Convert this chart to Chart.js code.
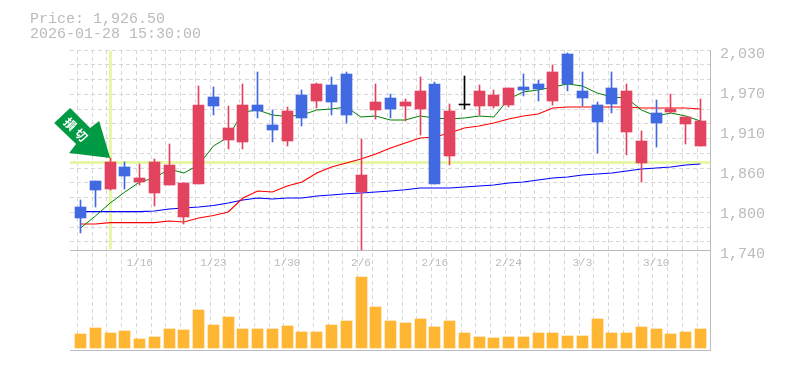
<!DOCTYPE html>
<html lang="en">
<head>
  <meta charset="UTF-8">
  <title>Price chart</title>
  <script src="https://cdn.jsdelivr.net/npm/chart.js"></script>
  <style>
    body { margin: 0; background: #fff; }
    canvas { display: block; }
  </style>
</head>
<body>
  <canvas id="priceChart" width="785" height="370"></canvas>

  <script>
    const priceText = "Price: 1,926.50";
    const timeText = "2026-01-28 15:30:00";

    const priceTicks = [1740, 1798, 1856, 1914, 1972, 2030];
    // date labels under the price panel: candle index and text
    const dateIndex = [4, 9, 14, 19, 24, 29, 34, 39];
    const dateLabels = ["1/16", "1/23", "1/30", "2/6", "2/16", "2/24", "3/3", "3/10"];

    const opens = [1802.35, 1840.05, 1828.45, 1860.35, 1838.6, 1822.65, 1834.25, 1787.85, 1835.7, 1961.85, 1899.5,
      1896.6, 1950.25, 1921.25, 1898.05, 1964.75, 1956.05, 1979.25, 1995.2, 1824.1, 1943, 1960.4, 1948.8, 1944.45,
      1980.7, 1876.3, 1950.25, 1948.8, 1948.8, 1950.25, 1976.35, 1980.7, 1956.05, 2024.2, 1970.55, 1950.25, 1974.9,
      1911.1, 1866.15, 1938.65, 1940.1, 1922.7, 1891.2];
    const highs = [1812.5, 1840.05, 1873.4, 1867.6, 1864.7, 1871.95, 1893.7, 1837.15, 1977.8, 1976.35, 1948.8,
      1980.7, 1998.1, 1943, 1947.35, 1972, 1982.15, 1990.85, 1998.1, 1900.95, 1980.7, 1966.2, 1959, 1990.85,
      1983.6, 1951.7, 1992.3, 1979.25, 1972, 1974.9, 1995.2, 1986.5, 2008.25, 2025.65, 1998.1, 1954.6, 1998.1,
      1980.7, 1912.55, 1957.5, 1966.2, 1932.85, 1959];
    const lows = [1765.1, 1802.8, 1827, 1828.45, 1834.25, 1803.8, 1834.25, 1777.7, 1835.7, 1935.75, 1886.45,
      1886.45, 1931.4, 1896.6, 1890.8, 1919.8, 1945.9, 1935.75, 1924.15, 1740, 1930.05, 1931.4, 1927.05, 1906.75,
      1835.7, 1863.25, 1944.45, 1935.75, 1945.9, 1947.35, 1963.3, 1956.05, 1950.25, 1970.55, 1948.8, 1880.65, 1938.65,
      1877.75, 1838.6, 1889.35, 1938.65, 1893.7, 1891.2];
    const closes = [1786.4, 1827, 1867.6, 1847.3, 1844.4, 1867.6, 1863.25, 1837.15, 1950.25, 1948.8, 1916.9,
      1950.25, 1941.55, 1914, 1941.55, 1931.4, 1980.7, 1954.6, 1935.75, 1848.75, 1954.6, 1944.45, 1954.6, 1970.55,
      1835.7, 1941.55, 1950.25, 1970.55, 1964.75, 1974.9, 1972, 1973.45, 1998.1, 1980.7, 1960.4, 1925.6, 1951.7,
      1970.55, 1898.05, 1924.15, 1944.45, 1932.85, 1927.05];

    const maShort = [1771.9, 1789.3, 1808.15, 1824.1, 1838.6, 1844.4, 1857.45, 1851.65, 1863.25, 1890.8, 1903.85,
      1940.1, 1943, 1935.75, 1933.6, 1935.75, 1943, 1944.45, 1947.35, 1932.85, 1934.3, 1928.5, 1928.5, 1934.3,
      1931.4, 1929.95, 1931.4, 1934.3, 1932.85, 1958.95, 1969.1, 1972, 1976.35, 1980.7, 1977.8, 1967.65, 1961.85,
      1960.4, 1943, 1934.3, 1938.65, 1934.3, 1927.05];
    const maMid = [1777.7, 1777.7, 1779.6, 1779.6, 1779.6, 1779.6, 1782.05, 1780.6, 1786.4, 1790, 1795.1,
      1815.4, 1825.55, 1824.1, 1832.8, 1838.6, 1851.65, 1860.35, 1866.15, 1871.95, 1879.2, 1887.9, 1895.15, 1902.4,
      1903.85, 1909.65, 1916.9, 1919.8, 1924.15, 1929.95, 1934.3, 1937.2, 1945.9, 1947.35, 1947.35, 1947.35, 1947.35,
      1947.35, 1945.9, 1945.9, 1945.9, 1945.9, 1944.45];
    const maLong = [1795.5, 1795.5, 1795.5, 1795.5, 1795.5, 1796.55, 1799.45, 1800.9, 1802.35, 1804.5, 1808.15,
      1812.5, 1815.4, 1813.95, 1815.4, 1815.4, 1818.3, 1819.75, 1821.6, 1822.65, 1824.1, 1825.55, 1827.4, 1829.9,
      1829.9, 1829.9, 1831.35, 1832.8, 1834.25, 1837.15, 1838.6, 1841.5, 1844.4, 1845.85, 1848.75, 1850.2, 1851.65,
      1854.55, 1857.45, 1858.9, 1860.35, 1863.25, 1864.7];

    const volumes = [14, 20, 15, 17, 9, 11, 19, 18, 38, 23, 31, 19, 19, 19, 22, 16, 16, 23, 27, 71, 41, 27, 25, 29,
      21, 27, 15, 11, 10, 11, 11, 15, 15, 12, 12, 29, 15, 15, 21, 19, 14, 16, 19];

    // cursor crosshair and the marker on the candle it points at
    const cursorIndex = 2;
    const cursorPrice = 1867.6;
    const markerText = ["損", "切"];

    const RED = "#e2435f";
    const BLUE = "#4169e1";
    const GRID = "#d8d8d8";
    const AXIS = "#bbbbbb";
    const CURSOR = "#e6f7a8";
    const MONO = '"Liberation Mono", monospace';

    const candleColors = opens.map((o, i) => closes[i] > o ? RED : closes[i] < o ? BLUE : "#000000");
    const points = values => values.map((v, i) => ({ x: i, y: v }));

    function maDataset(values, color, width) {
      return {
        type: "line", data: points(values), borderColor: color, borderWidth: width,
        pointRadius: 0, tension: 0, order: 5, yAxisID: "y"
      };
    }

    // snap bars to whole pixels, the reference has no blurred edges
    const snapBars = {
      id: "snapBars",
      beforeDatasetsDraw(chart) {
        chart.data.datasets.forEach((ds, i) => {
          if (ds.type !== "bar") return;
          chart.getDatasetMeta(i).data.forEach(el => {
            el.x = Math.floor(el.x) + 0.5;
            el.y = Math.round(el.y);
            el.base = Math.round(el.base);
          });
        });
      }
    };

    const cursorLines = {
      id: "cursorLines",
      beforeDatasetsDraw(chart) {
        const { ctx, chartArea, scales } = chart;
        const cx = Math.floor(scales.x.getPixelForValue(cursorIndex));
        const cy = Math.round(scales.y.getPixelForValue(cursorPrice));
        ctx.save();
        ctx.fillStyle = CURSOR;
        ctx.fillRect(cx - 1, chartArea.top + 1, 3, 198);
        ctx.fillRect(chartArea.left, cy - 1, chartArea.width, 3);
        ctx.strokeStyle = AXIS;
        ctx.lineWidth = 1;
        const base = Math.round(scales.y.getPixelForValue(1740)) + 0.5;
        ctx.beginPath();
        ctx.moveTo(chartArea.left, base);
        ctx.lineTo(chartArea.right, base);
        ctx.stroke();
        ctx.restore();
      }
    };

    const textLayer = {
      id: "textLayer",
      afterDraw(chart) {
        const { ctx, scales } = chart;
        ctx.save();
        ctx.fillStyle = AXIS;
        ctx.textBaseline = "alphabetic";
        ctx.textAlign = "left";
        ctx.font = "15px " + MONO;
        ctx.fillText(priceText, 30, 23);
        ctx.fillText(timeText, 30, 38);

        // price labels, rounded to tens and hanging 3px under their grid position
        priceTicks.forEach(v => {
          const label = (Math.round(v / 10) * 10).toLocaleString("en-US");
          ctx.fillText(label, 720, scales.y.getPixelForValue(v) + 8);
        });

        ctx.font = "11px " + MONO;
        ctx.textAlign = "center";
        dateLabels.forEach((label, i) => {
          ctx.fillText(label, scales.x.getPixelForValue(dateIndex[i]), 266);
        });

        // green down arrow, its tip resting on the candle
        const tx = scales.x.getPixelForValue(cursorIndex);
        const ty = scales.y.getPixelForValue(highs[cursorIndex]);
        const arrow = [[0, 0], [-41, -5], [-34, -14], [-56, -35], [-40, -50], [-20, -30], [-11, -37]];
        ctx.fillStyle = "#009944";
        ctx.beginPath();
        arrow.forEach(([dx, dy]) => ctx.lineTo(tx + dx, ty + dy));
        ctx.closePath();
        ctx.fill();

        ctx.fillStyle = "#ffffff";
        ctx.font = 'bold 12px "Noto Sans CJK JP"';
        ctx.textBaseline = "middle";
        [[-40, -34], [-29, -23]].forEach(([dx, dy], i) => {
          ctx.save();
          ctx.translate(tx + dx, ty + dy);
          ctx.rotate(Math.PI / 4);
          ctx.fillText(markerText[i], 0, 0);
          ctx.restore();
        });
        ctx.restore();
      }
    };

    new Chart(document.getElementById("priceChart"), {
      data: {
        datasets: [
          maDataset(maShort, "#008000", 1),
          maDataset(maMid, "#ff0000", 1.2),
          maDataset(maLong, "#0000ff", 1.2),
          {
            type: "bar", data: highs.map((h, i) => ({ x: i, y: [lows[i], h] })),
            backgroundColor: candleColors, barThickness: 1, order: 2, yAxisID: "y"
          },
          {
            type: "bar", data: opens.map((o, i) => ({ x: i, y: [o, closes[i]] })),
            backgroundColor: candleColors, barThickness: 11, minBarLength: 1, order: 1, yAxisID: "y"
          },
          {
            type: "bar", data: points(volumes),
            backgroundColor: "#ffb733", barThickness: 11, order: 3, yAxisID: "vol"
          }
        ]
      },
      options: {
        responsive: false,
        animation: false,
        grouped: false,
        layout: { padding: { left: 70, right: 75, top: 50, bottom: 20 } },
        plugins: { legend: { display: false }, tooltip: { enabled: false } },
        scales: {
          x: {
            type: "linear",
            offset: false,
            min: -0.72,
            max: 42.65,
            afterBuildTicks(scale) {
              scale.ticks = Array.from({ length: 44 }, (_, k) => ({ value: -0.72 + k }));
            },
            ticks: { display: false },
            grid: { color: GRID, drawTicks: false },
            border: { color: AXIS, dash: [4, 3] }
          },
          y: {
            position: "right",
            min: 1595,
            max: 2030,
            afterBuildTicks(scale) {
              scale.ticks = Array.from({ length: 14 }, (_, k) => ({ value: 2030 - 21.39 * k }));
            },
            ticks: { display: false },
            grid: { color: GRID, drawTicks: false },
            border: { color: AXIS, dash: [4, 3] }
          },
          vol: {
            display: false,
            min: -2,
            max: 298
          }
        }
      },
      plugins: [snapBars, cursorLines, textLayer]
    });
  </script>
</body>
</html>
